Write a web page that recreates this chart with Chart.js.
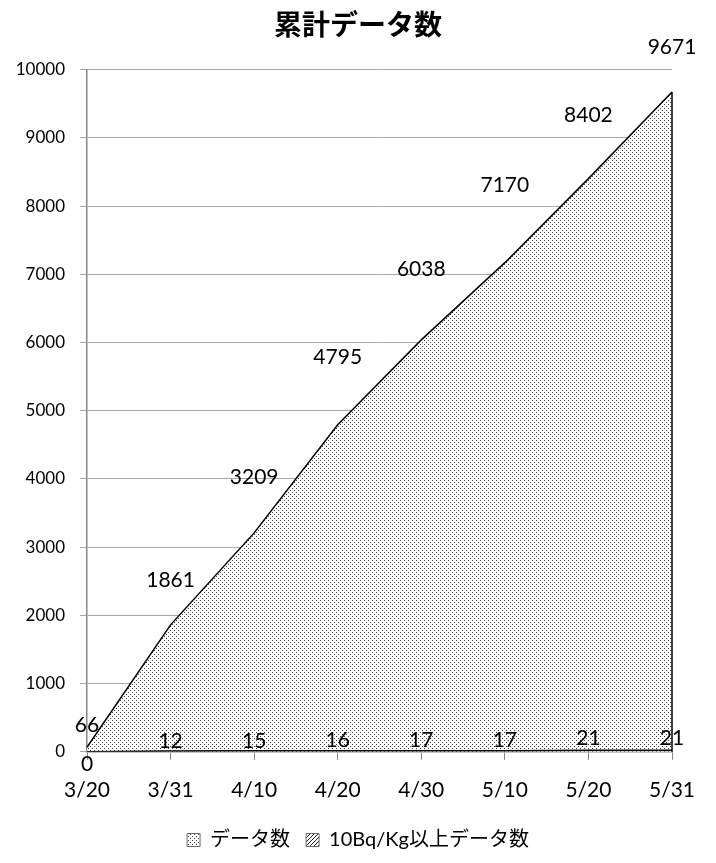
<!DOCTYPE html>
<html lang="ja">
<head>
<meta charset="utf-8">
<title>累計データ数</title>
<script src="https://cdn.jsdelivr.net/npm/chart.js@4.4.1/dist/chart.umd.min.js"></script>
<style>
  html, body { margin: 0; padding: 0; background: #ffffff; overflow: hidden; }
  #wrap { width: 716px; height: 863px; position: relative; }
</style>
</head>
<body>
<div id="wrap"><canvas id="chart"></canvas></div>
<script>
// Sampling dates (x axis categories)
const categories = ['3/20', '3/31', '4/10', '4/20', '4/30', '5/10', '5/20', '5/31'];
// Cumulative number of measurements
const totalCounts = [66, 1861, 3209, 4795, 6038, 7170, 8402, 9671];
// Cumulative number of measurements at 10 Bq/Kg or more
const over10BqCounts = [0, 12, 15, 16, 17, 17, 21, 21];
// Value axis range and step
const yMin = 0;
const yMax = 10000;
const yStep = 1000;

const seriesNames = ['データ数', '10Bq/Kg以上データ数'];

const latin = 'Lato, "Noto Sans CJK JP", sans-serif';
const cjk = '"Noto Sans CJK JP", Lato, sans-serif';

// Fill textures: fine dot screen and diagonal hatch
function dotPattern() {
  const c = document.createElement('canvas');
  c.width = 4; c.height = 4;
  const g = c.getContext('2d');
  g.fillStyle = '#ffffff';
  g.fillRect(0, 0, 4, 4);
  g.fillStyle = '#3a3a3a';
  g.fillRect(0, 0, 1, 1);
  g.fillRect(2, 2, 1, 1);
  return g.createPattern(c, 'repeat');
}
function hatchPattern() {
  const c = document.createElement('canvas');
  c.width = 4; c.height = 4;
  const g = c.getContext('2d');
  g.fillStyle = '#ffffff';
  g.fillRect(0, 0, 4, 4);
  g.fillStyle = '#222222';
  for (let i = 0; i < 4; i++) {
    g.fillRect(i, 3 - i, 1, 1);
  }
  return g.createPattern(c, 'repeat');
}

// Value labels and the right-hand edge of the main area
const valueLabels = {
  id: 'valueLabels',
  afterDatasetsDraw(chart, args, opts) {
    const ctx = chart.ctx;
    const yScale = chart.scales.y;
    // closing edge of the cumulative area at the last date
    const m0 = chart.getDatasetMeta(0).data;
    const last = m0[m0.length - 1];
    ctx.save();
    ctx.strokeStyle = '#000000';
    ctx.lineWidth = 1.5;
    ctx.beginPath();
    ctx.moveTo(last.x, last.y);
    ctx.lineTo(last.x, yScale.getPixelForValue(0));
    ctx.stroke();

    ctx.font = opts.font;
    ctx.fillStyle = '#000000';
    ctx.textAlign = 'center';
    ctx.textBaseline = 'middle';
    chart.data.datasets.forEach((ds, di) => {
      const meta = chart.getDatasetMeta(di);
      const lifts = opts.lifts[di];
      meta.data.forEach((pt, i) => {
        ctx.fillText(String(ds.data[i]), pt.x, pt.y - lifts[i]);
      });
    });
    ctx.restore();
  }
};

const dots = dotPattern();
const hatch = hatchPattern();

new Chart(document.getElementById('chart'), {
  type: 'line',
  data: {
    labels: categories,
    datasets: [
      {
        label: seriesNames[0],
        data: totalCounts,
        backgroundColor: dots,
        borderColor: '#000000',
        borderWidth: 1.5,
        fill: 'origin',
        pointRadius: 0,
        tension: 0,
        order: 2
      },
      {
        label: seriesNames[1],
        data: over10BqCounts,
        backgroundColor: hatch,
        borderColor: '#000000',
        borderWidth: 1.5,
        fill: 'origin',
        pointRadius: 0,
        tension: 0,
        order: 1
      }
    ]
  },
  options: {
    responsive: true,
    maintainAspectRatio: false,
    animation: false,
    layout: { padding: { left: 0, right: 0, top: 0, bottom: 3 } },
    plugins: {
      title: {
        display: true,
        text: '累計データ数',
        color: '#000000',
        font: { family: cjk, size: 28, weight: 'bold' },
        padding: { top: 8, bottom: 28 }
      },
      legend: {
        position: 'bottom',
        labels: {
          color: '#000000',
          font: { family: latin, size: 20 },
          boxWidth: 13,
          boxHeight: 13,
          padding: 16,
          generateLabels(chart) {
            return chart.data.datasets.map((ds, i) => ({
              text: ds.label,
              fillStyle: ds.backgroundColor,
              strokeStyle: '#6e6e6e',
              lineWidth: 1,
              fontColor: '#000000',
              hidden: false,
              datasetIndex: i
            }));
          }
        }
      },
      tooltip: { enabled: false },
      valueLabels: {
        font: '21px ' + latin,
        lifts: [
          [22, 45, 56, 67, 71, 77, 63, 45],
          [-12, 10, 10, 10, 10, 10, 12, 12]
        ]
      }
    },
    scales: {
      x: {
        type: 'category',
        offset: false,
        grid: {
          display: true,
          drawOnChartArea: false,
          drawTicks: true,
          tickLength: 8,
          color: '#868686'
        },
        border: { display: true, color: '#868686', width: 1.5 },
        ticks: {
          color: '#000000',
          font: { family: latin, size: 21 },
          padding: 18,
          maxRotation: 0,
          autoSkip: false
        },
        afterFit(scale) { scale.height -= 7; }
      },
      y: {
        min: yMin,
        max: yMax,
        grid: {
          color: '#a8a8a8',
          lineWidth: 1,
          drawTicks: true,
          tickLength: 7
        },
        border: { display: true, color: '#868686', width: 1.5 },
        ticks: {
          stepSize: yStep,
          color: '#000000',
          font: { family: latin, size: 17 },
          padding: 15,
          callback: (v) => String(v)
        },
        afterFit(scale) { scale.width = 87; }
      },
      // empty right-hand margin strip so title and legend stay centred on the page
      margin: {
        type: 'linear',
        position: 'right',
        display: true,
        grid: { display: false },
        border: { display: false },
        ticks: { display: false },
        afterFit(scale) { scale.width = 44; }
      }
    }
  },
  plugins: [valueLabels]
});
</script>
</body>
</html>
